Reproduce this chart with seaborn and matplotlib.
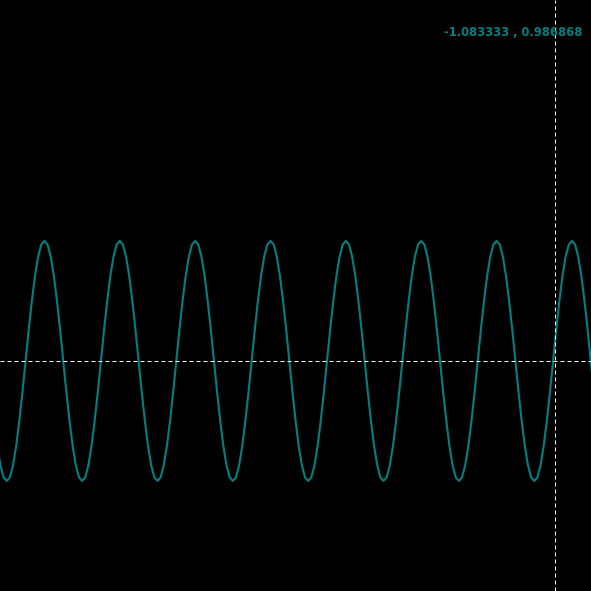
import numpy as np
import pandas as pd
import matplotlib
matplotlib.use("Agg")
import matplotlib.pyplot as plt
import seaborn as sns

# wave samples (24 per cycle, amplitude units)
signal = [
    -0.71, -0.87, -0.97, -1.00, -0.97, -0.87, -0.71, -0.50, -0.26, 0.00, 0.26, 0.50, 0.71, 0.87, 0.97, 1.00, 0.97, 0.87, 0.71, 0.50, 0.26, 0.00, -0.26, -0.50,
    -0.71, -0.87, -0.97, -1.00, -0.97, -0.87, -0.71, -0.50, -0.26, 0.00, 0.26, 0.50, 0.71, 0.87, 0.97, 1.00, 0.97, 0.87, 0.71, 0.50, 0.26, 0.00, -0.26, -0.50,
    -0.71, -0.87, -0.97, -1.00, -0.97, -0.87, -0.71, -0.50, -0.26, 0.00, 0.26, 0.50, 0.71, 0.87, 0.97, 1.00, 0.97, 0.87, 0.71, 0.50, 0.26, 0.00, -0.26, -0.50,
    -0.71, -0.87, -0.97, -1.00, -0.97, -0.87, -0.71, -0.50, -0.26, 0.00, 0.26, 0.50, 0.71, 0.87, 0.97, 1.00, 0.97, 0.87, 0.71, 0.50, 0.26, 0.00, -0.26, -0.50,
    -0.71, -0.87, -0.97, -1.00, -0.97, -0.87, -0.71, -0.50, -0.26, 0.00, 0.26, 0.50, 0.71, 0.87, 0.97, 1.00, 0.97, 0.87, 0.71, 0.50, 0.26, 0.00, -0.26, -0.50,
    -0.71, -0.87, -0.97, -1.00, -0.97, -0.87, -0.71, -0.50, -0.26, 0.00, 0.26, 0.50, 0.71, 0.87, 0.97, 1.00, 0.97, 0.87, 0.71, 0.50, 0.26, 0.00, -0.26, -0.50,
    -0.71, -0.87, -0.97, -1.00, -0.97, -0.87, -0.71, -0.50, -0.26, 0.00, 0.26, 0.50, 0.71, 0.87, 0.97, 1.00, 0.97, 0.87, 0.71, 0.50, 0.26, 0.00, -0.26, -0.50,
    -0.71, -0.87, -0.97, -1.00, -0.97, -0.87, -0.71, -0.50, -0.26, 0.00, 0.26, 0.50, 0.71, 0.87, 0.97, 1.00, 0.97, 0.87, 0.71, 0.50, 0.26, 0.00, -0.26, -0.50,
]
sample = list(range(len(signal)))

cursor_x = 177.6   # sample position of the crosshair
cursor_y = 0.0
cursor_label = "-1.083333 , 0.986868"

df = pd.DataFrame({"sample": sample, "signal": signal})

fig = plt.figure(figsize=(5.91, 5.91), dpi=100, facecolor="black")
ax = fig.add_axes([0, 0, 1, 1])
ax.set_facecolor("black")

sns.lineplot(data=df, x="sample", y="signal", color="#008080", linewidth=1.5, ax=ax)

ax.axvline(cursor_x, color="white", linewidth=0.72, linestyle=(0, (4, 3)))
ax.axhline(cursor_y, color="white", linewidth=0.72, linestyle=(0, (4, 3)))

ax.set_xlim(0.86, 189.08)
ax.set_ylim(-1.917, 3.008)
ax.set_axis_off()

fig.text(582 / 591, 1 - 36 / 591, cursor_label, color="#008080",
         fontsize=8.3, fontweight="bold", ha="right", va="baseline",
         family="DejaVu Sans")

plt.savefig("out.png", dpi=100, facecolor="black")
plt.close()
